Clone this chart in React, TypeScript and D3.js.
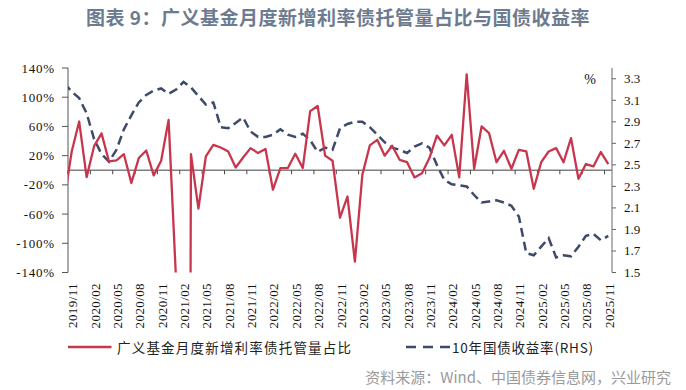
import * as d3 from "d3"

// monthly categories 2019/11 .. 2025/11
const months = d3
  .timeMonths(new Date(2019, 10, 1), new Date(2025, 11, 1))
  .map(d3.timeFormat("%Y/%m"))

// axis labels every third month
const tickLabels = [
  "2019/11", "2020/02", "2020/05", "2020/08", "2020/11", "2021/02", "2021/05",
  "2021/08", "2021/11", "2022/02", "2022/05", "2022/08", "2022/11", "2023/02",
  "2023/05", "2023/08", "2023/11", "2024/02", "2024/05", "2024/08", "2024/11",
  "2025/02", "2025/05", "2025/08", "2025/11",
]

// 广义基金月度新增利率债托管量占比 (%), left axis
const ratio = [
  25.7, 66.7, -9.5, 33, 50.5, 12, 13.5, 22, -17.5, 16.7,
  27, -7, 13, 69, -150, -3000, 22, -52.6, 19, 34.8,
  31.2, 25.7, 3.8, 17.5, 30.3, 23.5, 29, -26.6, 3, 3,
  22.5, 3, 81, 88, 20, 13, -65, -36, -125, -6,
  34, 41.7, 20, 33.5, 14.3, 11, -9.8, -4, 16.7, 47.5,
  34, 48.5, -9.8, 131.4, 2, 60, 50.8, 11, 26.6, 2,
  28, 25.7, -25.3, 11, 25.7, 30.3, 11, 44, -11.6, 8.5,
  5.2, 24.9, 8.5,
]
// 10年国债收益率 (%), right axis
const yield10 = [
  3.18, 3.12, 2.98, 2.74, 2.6, 2.53, 2.64, 2.83, 2.96, 3.08,
  3.15, 3.19, 3.21, 3.16, 3.2, 3.27, 3.22, 3.14, 3.06, 3.08,
  2.85, 2.84, 2.89, 2.94, 2.81, 2.76, 2.76, 2.78, 2.83, 2.78,
  2.76, 2.79, 2.73, 2.62, 2.66, 2.64, 2.84, 2.88, 2.9, 2.9,
  2.85, 2.78, 2.71, 2.66, 2.64, 2.61, 2.67, 2.7, 2.66, 2.5,
  2.36, 2.32, 2.31, 2.3, 2.22, 2.15, 2.16, 2.17, 2.15, 2.12,
  2.02, 1.68, 1.66, 1.74, 1.82, 1.64, 1.66, 1.65, 1.74, 1.84,
  1.86, 1.8, 1.84,
]
// 2019/10 values, only the stub at the left edge is visible
const prevRatio = -40
const prevYield = 3.26

const leftTicks = [140, 100, 60, 20, -20, -60, -100, -140]
const rightTicks = [3.3, 3.1, 2.9, 2.7, 2.5, 2.3, 2.1, 1.9, 1.7, 1.5]

const RED = "#c8364e"
const NAVY = "#3e4a6a"
const SERIF = "'Liberation Serif', 'DejaVu Serif', serif"
const CJK = "'Noto Sans CJK SC', 'Noto Sans', sans-serif"

export default function App() {
  const left = 68
  const right = 612
  const top = 68
  const bottom = 272.5

  const x = d3.scaleBand().domain(months).range([left, right])
  const step = x.step()
  const cx = (i: number) => (x(months[i]) as number) + step / 2

  const yL = d3.scaleLinear().domain([-140, 140]).range([bottom, top])
  const yR = d3.scaleLinear().domain([1.5, 3.4]).range([bottom, top])

  const redPts: [number, number][] = [[cx(0) - step, yL(prevRatio)]].concat(
    ratio.map((v, i) => [cx(i), yL(v)] as [number, number])
  ) as [number, number][]
  const bluePts: [number, number][] = [[cx(0) - step, yR(prevYield)]].concat(
    yield10.map((v, i) => [cx(i), yR(v)] as [number, number])
  ) as [number, number][]

  const line = d3.line()
  const zero = yL(0)

  return (
    <svg
      width={686}
      height={390}
      style={{ position: "absolute", left: 0, top: 0, background: "#fff" }}
    >
      <defs>
        <clipPath id="plot">
          <rect x={left} y={top} width={right - left} height={bottom - top} />
        </clipPath>
      </defs>

      <text
        x={338}
        y={25}
        textAnchor="middle"
        fontFamily={CJK}
        fontWeight="bold"
        fontSize={19}
        letterSpacing={0.5}
        fill="#6d7b90"
      >
        图表 9：广义基金月度新增利率债托管量占比与国债收益率
      </text>

      {/* left axis */}
      <line x1={left} x2={left} y1={top} y2={bottom} stroke="#555" strokeWidth={1} />
      {leftTicks.map((t) => (
        <g key={t}>
          <line x1={left - 6} x2={left} y1={yL(t)} y2={yL(t)} stroke="#555" />
          <text
            x={55}
            y={yL(t)}
            textAnchor="end"
            dominantBaseline="central"
            fontFamily={SERIF}
            fontSize={13}
            letterSpacing={0.8}
            fill="#111"
          >
            {t}%
          </text>
        </g>
      ))}

      {/* right axis */}
      <line x1={right} x2={right} y1={top} y2={bottom} stroke="#666" strokeWidth={1} />
      {rightTicks.map((t) => (
        <g key={t}>
          <line x1={right} x2={right + 4} y1={yR(t)} y2={yR(t)} stroke="#666" />
          <text
            x={624}
            y={yR(t)}
            dominantBaseline="central"
            fontFamily={SERIF}
            fontSize={13}
            fill="#111"
          >
            {t.toFixed(1)}
          </text>
        </g>
      ))}
      <text x={590} y={79} textAnchor="middle" dominantBaseline="central" fontFamily={SERIF} fontSize={14} fill="#111">
        %
      </text>

      {/* zero line with category ticks */}
      <line x1={left} x2={right} y1={zero} y2={zero} stroke="#7f7f7f" strokeWidth={1.6} />
      {tickLabels.map((lab, k) => (
        <line
          key={lab}
          x1={x(months[k * 3]) as number}
          x2={x(months[k * 3]) as number}
          y1={zero}
          y2={zero + 4}
          stroke="#444"
        />
      ))}

      {/* series */}
      <g clipPath="url(#plot)">
        <path
          d={line(bluePts) as string}
          fill="none"
          stroke={NAVY}
          strokeWidth={2.5}
          strokeDasharray="9,5"
        />
        <path
          d={line(redPts) as string}
          fill="none"
          stroke={RED}
          strokeWidth={2.3}
          strokeLinejoin="round"
        />
      </g>

      {/* x labels */}
      {tickLabels.map((lab) => {
        const i = months.indexOf(lab)
        const px = cx(i) + 1
        return (
          <text
            key={lab}
            transform={`translate(${px},283) rotate(-90)`}
            textAnchor="end"
            dominantBaseline="central"
            fontFamily={SERIF}
            fontSize={13}
            letterSpacing={0.4}
            fill="#111"
          >
            {lab}
          </text>
        )
      })}

      {/* legend */}
      <line x1={68} x2={111.5} y1={347} y2={347} stroke={RED} strokeWidth={2.5} />
      <text x={117} y={347} dominantBaseline="central" fontFamily={CJK} fontSize={13.5} letterSpacing={1.2} fill="#222">
        广义基金月度新增利率债托管量占比
      </text>
      <line x1={406} x2={450} y1={347} y2={347} stroke={NAVY} strokeWidth={2.5} strokeDasharray="10,7" />
      <text x={452} y={347} dominantBaseline="central" fontFamily={CJK} fontSize={13.5} letterSpacing={0.8} fill="#222">
        10年国债收益率(RHS)
      </text>

      <text x={671} y={376} textAnchor="end" dominantBaseline="central" fontFamily={CJK} fontSize={15} fill="#9a9a9a">
        资料来源：Wind、中国债券信息网，兴业研究
      </text>
    </svg>
  )
}
